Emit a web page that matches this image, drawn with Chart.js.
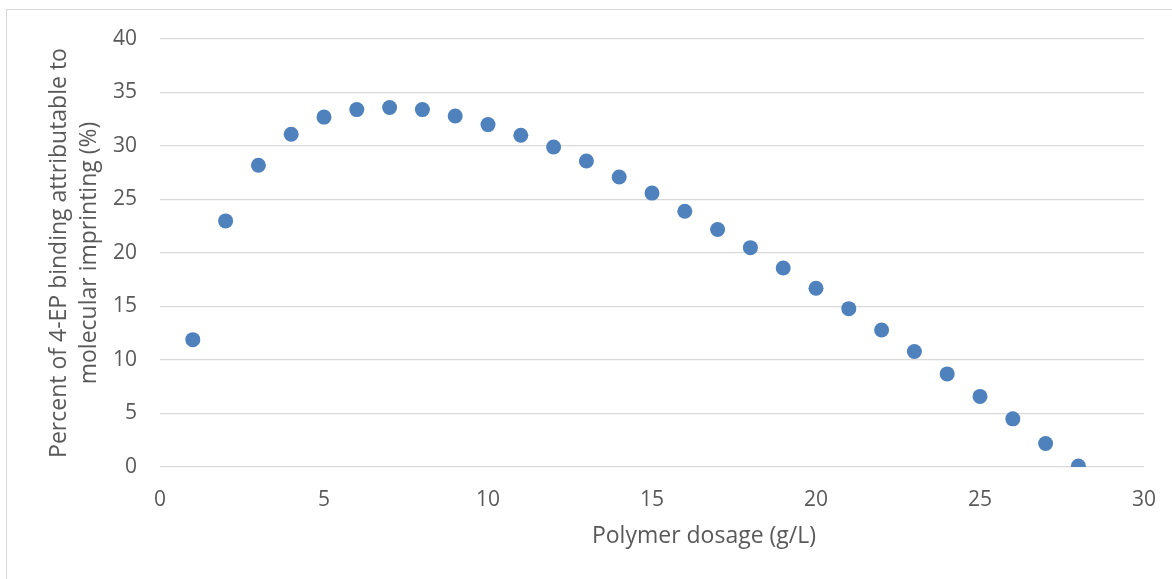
<!DOCTYPE html>
<html>
<head>
<meta charset="utf-8">
<script src="https://cdn.jsdelivr.net/npm/chart.js@4.4.1/dist/chart.umd.min.js"></script>
<style>
  html, body { margin: 0; padding: 0; background: #ffffff; overflow: hidden; }
  #wrap { position: relative; width: 1172px; height: 579px; }
  #frame { position: absolute; left: 6px; top: 9px; width: 1200px; height: 620px; border: 1px solid #d9d9d9; box-sizing: border-box; }
  canvas { position: absolute; left: 0; top: 0; }
</style>
</head>
<body>
<div id="wrap">
  <div id="frame"></div>
  <canvas id="c" width="1172" height="579"></canvas>
</div>
<script>
const dosage = [1, 2, 3, 4, 5, 6, 7, 8, 9, 10, 11, 12, 13, 14, 15, 16, 17, 18, 19, 20, 21, 22, 23, 24, 25, 26, 27, 28];
const imprintingPct = [11.9, 23.0, 28.2, 31.1, 32.7, 33.4, 33.6, 33.4, 32.8, 32.0, 31.0, 29.9, 28.6, 27.1, 25.6, 23.9, 22.2, 20.5, 18.6, 16.7, 14.8, 12.8, 10.8, 8.7, 6.6, 4.5, 2.2, 0.1];
const xTitle = 'Polymer dosage (g/L)';
const yTitle = ['Percent of 4-EP binding attributable to', 'molecular imprinting (%)'];

const FONT = "'Open Sans', sans-serif";
const TEXT = '#595959';

const xTitlePlugin = {
  id: 'xTitlePlugin',
  afterDraw(chart) {
    const ctx = chart.ctx;
    ctx.save();
    ctx.font = '23px ' + FONT;
    ctx.fillStyle = TEXT;
    ctx.textAlign = 'center';
    ctx.textBaseline = 'middle';
    ctx.fillText(xTitle, 704, 536);
    ctx.restore();
  }
};

new Chart(document.getElementById('c'), {
  type: 'scatter',
  data: {
    datasets: [{
      data: dosage.map((x, i) => ({ x: x, y: imprintingPct[i] })),
      backgroundColor: '#4F81BD',
      borderColor: '#4F81BD',
      borderWidth: 0,
      pointRadius: 7.5,
      pointHoverRadius: 7.5
    }]
  },
  options: {
    responsive: false,
    animation: false,
    devicePixelRatio: 1,
    layout: { padding: { top: 39, right: 28, left: 0, bottom: 0 } },
    plugins: { legend: { display: false }, tooltip: { enabled: false } },
    scales: {
      x: {
        type: 'linear',
        min: 0, max: 30,
        ticks: { stepSize: 5, color: TEXT, font: { family: FONT, size: 21 }, padding: 20 },
        grid: { display: false, drawTicks: false },
        border: { display: false },
        afterFit(scale) { scale.height = 112; scale.paddingLeft = 0; scale.paddingRight = 0; }
      },
      y: {
        type: 'linear',
        min: 0, max: 40,
        ticks: { stepSize: 5, color: TEXT, font: { family: FONT, size: 21 }, padding: 23 },
        grid: { color: '#d9d9d9', lineWidth: 1.3, drawTicks: false },
        border: { display: false },
        title: {
          display: true,
          text: yTitle,
          color: TEXT,
          font: { family: FONT, size: 23, lineHeight: 1.3 },
          padding: { top: 45, bottom: 0 }
        },
        afterFit(scale) { scale.width = 160; }
      }
    }
  },
  plugins: [xTitlePlugin]
});
</script>
</body>
</html>
